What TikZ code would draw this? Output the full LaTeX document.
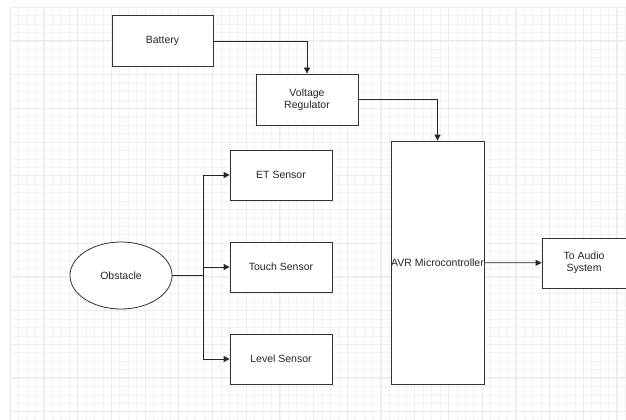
\documentclass[tikz,border=0pt]{standalone}
\usepackage{fontspec}
\setmainfont{Liberation Sans}
\usepackage{tikz}
\usetikzlibrary{arrows.meta,shapes.geometric}

\tikzset{
  block/.style={draw=black!80, line width=0.8pt, fill=white, inner sep=0pt, align=center,
    text=black!85, font=\fontsize{10.5}{12}\selectfont},
  conn/.style={draw=black!85, line width=0.8pt, -{Triangle[length=6pt,width=6pt]}}
}

\begin{document}
\begin{tikzpicture}[x=1pt,y=-1pt]
 \useasboundingbox (0,0) rectangle (626,420);
 % grid
 \foreach \i in {0,...,73} {
   \draw[black!5, line width=0.4pt] ({10+8.43*\i},7) -- ({10+8.43*\i},420);
 }
 \foreach \j in {0,...,49} {
   \draw[black!5, line width=0.4pt] (10,{7+8.43*\j}) -- (626,{7+8.43*\j});
 }
 \foreach \i in {0,...,18} {
   \draw[black!8, line width=0.6pt] ({10+33.7*\i},7) -- ({10+33.7*\i},420);
 }
 \foreach \j in {0,...,12} {
   \draw[black!8, line width=0.6pt] (10,{7+33.7*\j}) -- (626,{7+33.7*\j});
 }

  \draw (162.5,41) node[block, minimum width=101pt, minimum height=51pt] (Battery) {Battery};
  \draw (307,99.5) node[block, minimum width=102pt, minimum height=51pt] (VR) {Voltage\\Regulator};
  \draw (281,175) node[block, minimum width=102pt, minimum height=50pt] (ET) {ET Sensor};
  \draw (281,267) node[block, minimum width=102pt, minimum height=50pt] (Touch) {Touch Sensor};
  \draw (281,359) node[block, minimum width=102pt, minimum height=50pt] (Level) {Level Sensor};
  \draw (121,275.5) node[block, ellipse, minimum width=102pt, minimum height=67pt] (Obstacle) {Obstacle};
  \draw (437.5,262.5) node[block, minimum width=93pt, minimum height=243pt] (AVR) {AVR Microcontroller};
  \draw (584,263) node[block, minimum width=84pt, minimum height=50pt] (Audio) {To Audio\\System};
  \coordinate (split) at (203,275.5);

     \path[conn] (Battery) -| (VR);
     \path[conn] (VR) -| (AVR);
     \path[conn] (Obstacle) -- (split) |- (ET);
     \path[conn] (Obstacle) -- (split) |- (Touch.west);
     \path[conn] (split) |- (Level);
     \path[conn] (AVR) -- (Audio);

\end{tikzpicture}
\end{document}
